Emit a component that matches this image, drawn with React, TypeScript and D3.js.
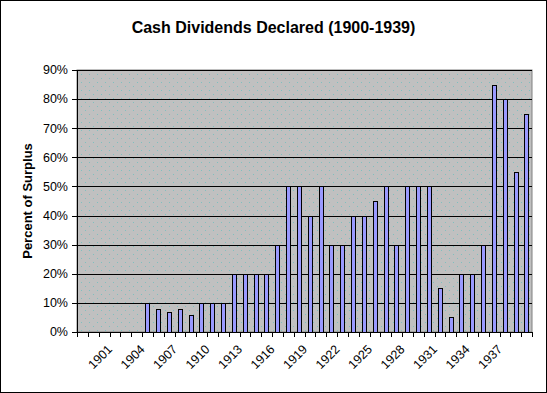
import * as d3 from "d3";
import { useEffect, useRef } from "react";

// categories: first two years have no data, labels every 3rd year from 1901
const years = [
  "1898", "1899", "1900", "1901", "1902", "1903", "1904", "1905", "1906", "1907",
  "1908", "1909", "1910", "1911", "1912", "1913", "1914", "1915", "1916", "1917",
  "1918", "1919", "1920", "1921", "1922", "1923", "1924", "1925", "1926", "1927",
  "1928", "1929", "1930", "1931", "1932", "1933", "1934", "1935", "1936", "1937",
  "1938", "1939",
];

// percent of surplus paid out as cash dividends
const dividendPct = [
  0, 0, 0, 0, 0, 0, 10, 8, 7, 8,
  6, 10, 10, 10, 20, 20, 20, 20, 30, 50,
  50, 40, 50, 30, 30, 40, 40, 45, 50, 30,
  50, 50, 50, 15, 5, 20, 20, 30, 85, 80,
  55, 75,
];

const shownLabels = ["1901", "1904", "1907", "1910", "1913", "1916", "1919", "1922", "1925", "1928", "1931", "1934", "1937"];
const yTicks = [0, 10, 20, 30, 40, 50, 60, 70, 80, 90];

export default function App() {
  const ref = useRef<SVGSVGElement>(null);

  useEffect(() => {
    const width = 547;
    const height = 393;
    const margin = { top: 70, right: 15, bottom: 61, left: 77 };
    const font = "'Liberation Sans', Arial, sans-serif";

    const svg = d3.select(ref.current);
    svg.selectAll("*").remove();

    const x = d3.scaleBand()
      .domain(years)
      .range([margin.left, width - margin.right])
      .paddingInner(0.6)
      .paddingOuter(0.3);

    const y = d3.scaleLinear()
      .domain([0, 90])
      .range([height - margin.bottom, margin.top]);

    const x0 = margin.left;
    const x1 = width - margin.right;
    const yBottom = y(0);
    const yTop = y(90);

    // chart background + border
    svg.append("rect")
      .attr("x", 0.5).attr("y", 0.5)
      .attr("width", width - 1).attr("height", height - 1)
      .attr("fill", "#fff").attr("stroke", "#000");

    // dotted plot area fill
    const defs = svg.append("defs");
    const pat = defs.append("pattern")
      .attr("id", "dots")
      .attr("patternUnits", "userSpaceOnUse")
      .attr("width", 8).attr("height", 8);
    pat.append("rect").attr("width", 8).attr("height", 8).attr("fill", "#c0c0c0");
    pat.append("rect").attr("x", 1).attr("y", 2).attr("width", 1).attr("height", 1).attr("fill", "#7fbfbf");
    pat.append("rect").attr("x", 5).attr("y", 6).attr("width", 1).attr("height", 1).attr("fill", "#7fbfbf");

    svg.append("rect")
      .attr("x", x0).attr("y", yTop)
      .attr("width", x1 - x0).attr("height", yBottom - yTop)
      .attr("fill", "url(#dots)")
      .attr("stroke", "#808080");

    // gridlines
    svg.append("g")
      .selectAll("line")
      .data(yTicks.slice(1))
      .join("line")
      .attr("x1", x0).attr("x2", x1)
      .attr("y1", d => Math.round(y(d)) + 0.5)
      .attr("y2", d => Math.round(y(d)) + 0.5)
      .attr("stroke", "#000");

    // bars
    const bw = Math.round(x.bandwidth());
    svg.append("g")
      .selectAll("rect")
      .data(dividendPct.map((v, i) => ({ year: years[i], v })).filter(d => d.v > 0))
      .join("rect")
      .attr("x", d => Math.round(x(d.year)!) + 0.5)
      .attr("y", d => Math.round(y(d.v)) + 0.5)
      .attr("width", bw)
      .attr("height", d => Math.round(yBottom) - Math.round(y(d.v)))
      .attr("fill", "#9999ff")
      .attr("stroke", "#000");

    // y axis
    const ya = svg.append("g");
    ya.append("line")
      .attr("x1", x0 + 0.5).attr("x2", x0 + 0.5)
      .attr("y1", yTop).attr("y2", yBottom + 0.5)
      .attr("stroke", "#000");
    ya.selectAll("line.tick")
      .data(yTicks)
      .join("line")
      .attr("class", "tick")
      .attr("x1", x0 - 5).attr("x2", x0)
      .attr("y1", d => Math.round(y(d)) + 0.5)
      .attr("y2", d => Math.round(y(d)) + 0.5)
      .attr("stroke", "#000");
    ya.selectAll("text")
      .data(yTicks)
      .join("text")
      .attr("x", x0 - 9)
      .attr("y", d => y(d))
      .attr("dy", "0.35em")
      .attr("text-anchor", "end")
      .attr("font-family", font)
      .attr("font-size", 12.5)
      .text(d => `${d}%`);

    // x axis
    const xa = svg.append("g");
    xa.append("line")
      .attr("x1", x0).attr("x2", x1 + 0.5)
      .attr("y1", Math.round(yBottom) + 0.5).attr("y2", Math.round(yBottom) + 0.5)
      .attr("stroke", "#000");
    xa.selectAll("line.tick")
      .data(d3.range(years.length + 1))
      .join("line")
      .attr("class", "tick")
      .attr("x1", i => Math.round(x0 + i * x.step()) + 0.5)
      .attr("x2", i => Math.round(x0 + i * x.step()) + 0.5)
      .attr("y1", yBottom)
      .attr("y2", yBottom + 5)
      .attr("stroke", "#000");
    xa.selectAll("text")
      .data(years.filter(yr => shownLabels.includes(yr)))
      .join("text")
      .attr("transform", yr => {
        const cx = x(yr)! + x.bandwidth() / 2 - 5;
        return `translate(${cx},${yBottom + 15}) rotate(-45)`;
      })
      .attr("text-anchor", "end")
      .attr("dy", "0.35em")
      .attr("font-family", font)
      .attr("font-size", 12.5)
      .text(yr => yr);

    // titles
    svg.append("text")
      .attr("x", width / 2)
      .attr("y", 33)
      .attr("text-anchor", "middle")
      .attr("font-family", font)
      .attr("font-size", 16)
      .attr("font-weight", "bold")
      .text("Cash Dividends Declared (1900-1939)");

    svg.append("text")
      .attr("transform", `translate(32,${(yTop + yBottom) / 2}) rotate(-90)`)
      .attr("text-anchor", "middle")
      .attr("font-family", font)
      .attr("font-size", 13)
      .attr("font-weight", "bold")
      .text("Percent of Surplus");
  }, []);

  return (
    <div style={{ position: "absolute", left: 0, top: 0 }}>
      <svg ref={ref} width={547} height={393} style={{ display: "block" }} />
    </div>
  );
}
